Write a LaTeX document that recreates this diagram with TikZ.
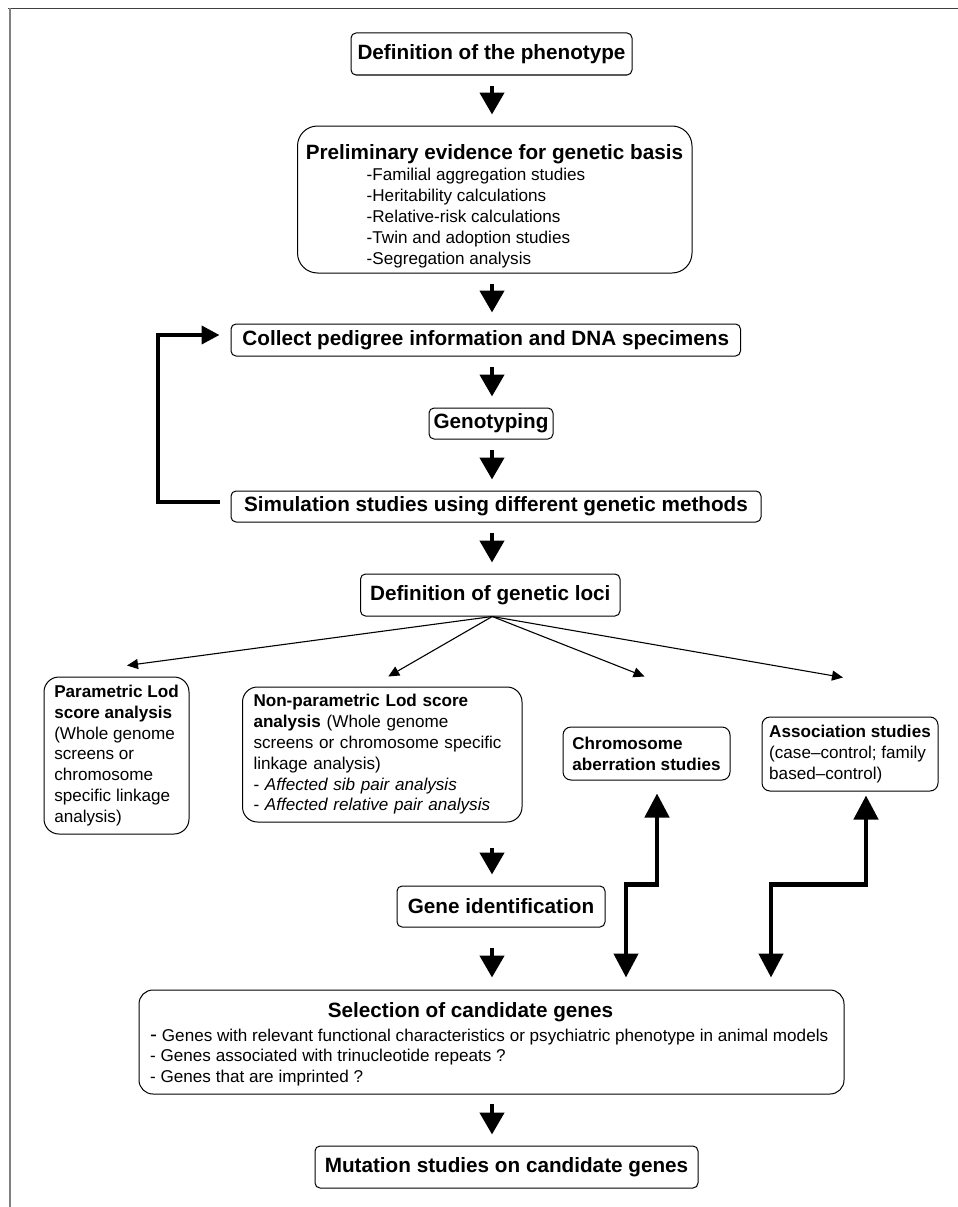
\documentclass[tikz,border=0pt]{standalone}
\usepackage{fontspec}
\setmainfont{Liberation Sans}
\usetikzlibrary{arrows.meta}
\newcommand\titlefont{\fontsize{20.7}{24}\selectfont\bfseries}
\newcommand\bodyfont{\fontsize{17.1}{20.8}\selectfont}
\tikzset{
  box/.style={draw,line width=1pt,rounded corners=5pt,inner sep=0pt,font=\titlefont},
  infobox/.style={draw,line width=1pt,rounded corners=15pt,inner sep=0pt,align=left,font=\bodyfont},
  bigarr/.style={line width=4.5pt,-{Triangle[width=24pt,length=22pt]}},
  dblarr/.style={line width=4.5pt,{Triangle[width=24pt,length=24pt]}-{Triangle[width=24pt,length=24pt]}},
  loopback/.style={line width=4pt,-{Triangle[width=18pt,length=18pt]}},
  thinarr/.style={line width=1.1pt,-{Triangle[width=10pt,length=11pt]}}
}
\begin{document}
\begin{tikzpicture}[x=1pt,y=-1pt]
    \useasboundingbox (0,0) rectangle (958,1207);
    \draw[black!75,line width=1.5pt] (8,8.5) -- (958,8.5);
    \draw[gray,line width=2pt] (9.5,8) -- (9.5,1207);
    % main column
    \node[box,minimum width=281pt,minimum height=42pt] (phen) at (491.5,54) {Definition of the phenotype};
    \node[box,rounded corners=20pt,minimum width=394.5pt,minimum height=147pt] (prelim) at (494.75,199.5) {};
    \node[font=\titlefont] (prelimtitle) at (494.5,154) {Preliminary evidence for genetic basis};
    \node[font=\bodyfont,align=left,anchor=west,inner sep=0pt] (prelimlist) at (366.5,218)
      {-Familial aggregation studies\\-Heritability calculations\\-Relative-risk calculations\\-Twin and adoption studies\\-Segregation analysis};
    \node[box,minimum width=509.5pt,minimum height=32pt] (collect) at (485.75,340) {Collect pedigree information and DNA specimens};
    \node[box,minimum width=124pt,minimum height=31pt] (geno) at (491,423.5) {Genotyping};
    \node[box,minimum width=530pt,minimum height=31pt] (simul) at (496,506.5) {Simulation studies using different genetic methods};
    \node[box,minimum width=259.5pt,minimum height=42pt] (loci) at (490.25,595) {Definition of genetic loci};
    % the four approaches
    \node[infobox,minimum width=145pt,minimum height=157pt] (param) at (116.5,755.5)
      {\textbf{Parametric Lod}\\\textbf{score analysis}\\(Whole genome\\screens or\\chromosome\\specific linkage\\analysis)};
    \node[infobox,minimum width=279.5pt,minimum height=135pt,text width=257.5pt,inner xsep=11pt] (nonpar) at (382.25,754.5)
      {\textbf{Non-parametric Lod score}\\\textbf{analysis} (Whole genome\\screens or chromosome specific\\linkage analysis)\\- \textit{Affected sib pair analysis}\\- \textit{Affected relative pair analysis}};
    \node[infobox,rounded corners=8pt,minimum width=167pt,minimum height=53pt] (chrom) at (646.5,753.5)
      {\textbf{Chromosome}\\\textbf{aberration studies}};
    \node[infobox,rounded corners=8pt,minimum width=176pt,minimum height=74pt] (assoc) at (850,754)
      {\textbf{Association studies}\\(case–control; family\\based–control)};
    \node[box,minimum width=208pt,minimum height=41pt] (geneid) at (501,906.5) {Gene identification};
    \node[box,rounded corners=14pt,minimum width=705pt,minimum height=104pt] (select) at (491.5,1042) {};
    \node[font=\titlefont] (selecttitle) at (470.5,1012) {Selection of candidate genes};
    \node[font=\bodyfont,align=left,anchor=west,inner sep=0pt] (selectlist) at (150,1057.5)
      {{\fontsize{21}{20.8}\selectfont -} Genes with relevant functional characteristics or psychiatric phenotype in animal models\\- Genes associated with trinucleotide repeats ?\\- Genes that are imprinted ?};
    \node[box,minimum width=383pt,minimum height=42pt] (mutat) at (506.5,1167) {Mutation studies on candidate genes};
    % arrows
    \coordinate (spine) at (492,0);
    \foreach \a/\b in {phen/prelim,prelim/collect,collect/geno,geno/simul,simul/loci}
      {\draw[bigarr,shorten <=10pt,shorten >=11pt] (spine |- \a.south) -- (spine |- \b.north);}
    \draw[bigarr,shorten <=25pt,shorten >=11pt] (spine |- nonpar.south) -- (spine |- geneid.north);
    \draw[bigarr,shorten <=20pt,shorten >=12pt] (spine |- geneid.south) -- (spine |- select.north);
    \draw[bigarr,shorten <=9pt,shorten >=11pt] (spine |- select.south) -- (spine |- mutat.north);
    \draw[loopback] ([xshift=-11pt,yshift=5pt]simul.west) -- ++(-62,0) |- ([xshift=-11pt,yshift=5pt]collect.west);
    \foreach \t/\dx/\dy in {param/10.5pt/11pt,nonpar/6pt/10pt,chrom/-2pt/50pt,assoc/-7pt/39pt}
      {\draw[thinarr] ([xshift=2pt]loci.south) -- ([xshift=\dx,yshift=\dy]\t.north);}
    \draw[dblarr] ([xshift=134.5pt,yshift=12pt]select.north) -- ++(0,-93) -- ++(31,0) -- ([xshift=10.5pt,yshift=-13pt]chrom.south);
    \draw[dblarr] ([xshift=279.5pt,yshift=12pt]select.north) -- ++(0,-93) -- ++(95,0) -- ([xshift=16pt,yshift=-4pt]assoc.south);
  \end{tikzpicture}
\end{document}
